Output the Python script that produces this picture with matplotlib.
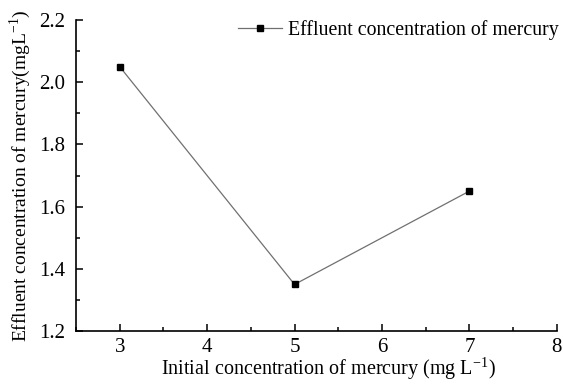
import matplotlib
matplotlib.use("Agg")
import matplotlib.pyplot as plt
from matplotlib.ticker import MultipleLocator

plt.rcParams['font.family'] = ['Liberation Serif', 'DejaVu Serif']
plt.rcParams['mathtext.fontset'] = 'stix'

# initial vs effluent mercury concentration
initial_conc = [3, 5, 7]
effluent_conc = [2.05, 1.35, 1.65]
series_label = "Effluent concentration of mercury"

fig = plt.figure(figsize=(5.63, 3.85), dpi=100)
ax = fig.add_axes([0.135, 0.140, 0.854, 0.808])

ax.plot(initial_conc, effluent_conc, color="#707070", lw=0.9,
        marker="s", ms=5, mfc="black", mec="black", label=series_label)

ax.set_xlim(2.5, 8)
ax.set_ylim(1.2, 2.2)
ax.xaxis.set_major_locator(MultipleLocator(1))
ax.xaxis.set_minor_locator(MultipleLocator(0.5))
ax.yaxis.set_major_locator(MultipleLocator(0.2))
ax.yaxis.set_minor_locator(MultipleLocator(0.1))
ax.yaxis.set_major_formatter(matplotlib.ticker.FormatStrFormatter("%.1f"))

for side in ("top", "right"):
    ax.spines[side].set_visible(False)
for side in ("left", "bottom"):
    ax.spines[side].set_linewidth(1.2)

ax.tick_params(which="both", direction="in", labelsize=15, width=1.1)
ax.tick_params(which="major", length=5)
ax.tick_params(which="minor", length=3)
ax.tick_params(axis="x", pad=5)
ax.tick_params(axis="y", pad=8)

ax.set_xlabel(r"Initial concentration of mercury (mg L$^{\mathregular{-1}}$)",
              fontsize=14.5, labelpad=0)
ax.xaxis.set_label_coords(0.525, -0.08)
ax.set_ylabel(r"Effluent concentration of mercury(mgL$^{\mathregular{-1}}$)",
              fontsize=14, labelpad=4)

ax.legend(loc="upper right", frameon=False, fontsize=14.3,
          handlelength=2.2, handletextpad=0.3, borderaxespad=0.0,
          bbox_to_anchor=(1.02, 1.025))

fig.savefig("out.png", dpi=100)
